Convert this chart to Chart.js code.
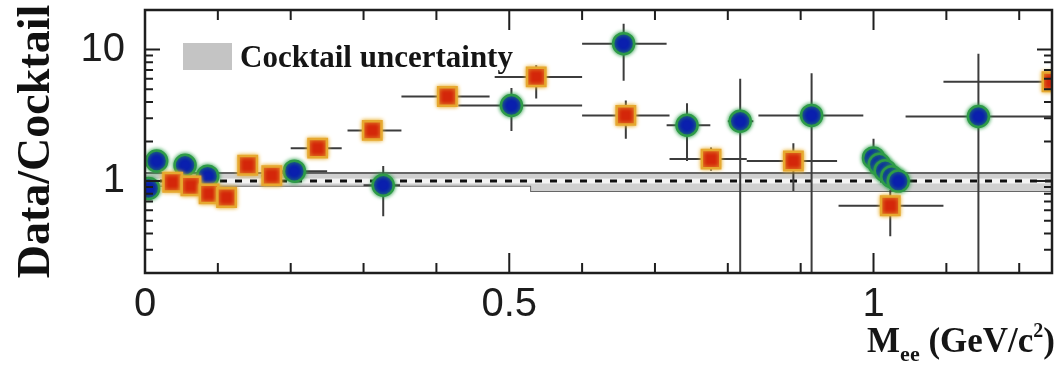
<!DOCTYPE html>
<html>
<head>
<meta charset="utf-8">
<script src="https://cdn.jsdelivr.net/npm/chart.js@4.4.0/dist/chart.umd.min.js"></script>
<style>
  html, body { margin: 0; padding: 0; background: #fff; }
</style>
</head>
<body>
<canvas id="ratio" width="1057" height="371"></canvas>
<script>
// blue circles: x, ratio, x error range, ratio error range
const circX   = [0.005, 0.016, 0.055, 0.086, 0.205, 0.327, 0.503, 0.657, 0.744, 0.817, 0.915, 1.000, 1.008, 1.016, 1.025, 1.034, 1.144];
const circY   = [0.88, 1.42, 1.32, 1.09, 1.19, 0.93, 3.76, 11.1, 2.66, 2.85, 3.16, 1.50, 1.34, 1.20, 1.08, 1.00, 3.10];
const circXLo = [0.000, 0.010, 0.045, 0.075, 0.170, 0.300, 0.430, 0.600, 0.716, 0.800, 0.842, 0.995, 1.003, 1.011, 1.020, 1.029, 1.044];
const circXHi = [0.010, 0.022, 0.065, 0.095, 0.250, 0.350, 0.600, 0.716, 0.776, 0.835, 0.986, 1.005, 1.013, 1.021, 1.030, 1.039, 1.260];
const circYLo = [0.80, 1.30, 1.22, 1.00, 1.10, 0.54, 2.40, 5.80, 1.42, 0.10, 0.10, 1.20, 1.10, 1.00, 0.95, 0.90, 0.10];
const circYHi = [0.96, 1.55, 1.42, 1.19, 1.29, 1.30, 5.10, 15.7, 3.90, 6.00, 6.60, 2.10, 1.70, 1.50, 1.30, 1.15, 9.30];

// red squares
const sqX   = [0.038, 0.063, 0.088, 0.112, 0.141, 0.174, 0.237, 0.312, 0.415, 0.537, 0.660, 0.777, 0.890, 1.023, 1.245];
const sqY   = [0.98, 0.92, 0.80, 0.75, 1.32, 1.10, 1.78, 2.43, 4.40, 6.20, 3.16, 1.47, 1.42, 0.65, 5.70];
const sqXLo = [0.030, 0.055, 0.080, 0.104, 0.130, 0.160, 0.200, 0.278, 0.352, 0.480, 0.600, 0.720, 0.826, 0.952, 1.096];
const sqXHi = [0.046, 0.071, 0.096, 0.120, 0.152, 0.188, 0.270, 0.352, 0.473, 0.600, 0.720, 0.826, 0.950, 1.096, 1.400];
const sqYLo = [0.92, 0.86, 0.74, 0.69, 1.22, 1.02, 1.62, 2.15, 3.90, 4.25, 2.10, 1.20, 0.84, 0.38, 4.50];
const sqYHi = [1.04, 0.98, 0.86, 0.81, 1.42, 1.18, 1.96, 2.75, 5.00, 7.60, 4.10, 1.80, 1.94, 0.85, 7.50];

// cocktail uncertainty band around unity
const bandX  = [0, 0.53, 0.53, 1.245];
const bandHi = [1.15, 1.15, 1.15, 1.15];
const bandLo = [0.92, 0.92, 0.84, 0.84];

const xTicks = [0, 0.5, 1];
const yTicks = [1, 10];
const xMinor = [0.1, 0.2, 0.3, 0.4, 0.5, 0.6, 0.7, 0.8, 0.9, 1, 1.1, 1.2];
const yMinor = [0.2, 0.3, 0.4, 0.5, 0.6, 0.7, 0.8, 0.9, 1, 2, 3, 4, 5, 6, 7, 8, 9, 10, 20];

const pts = (xs, ys) => xs.map((x, i) => ({ x: x, y: ys[i] }));

// error bars are drawn right before each marker set, then the marker glow is switched on
const errorBars = {
  id: 'errorBars',
  beforeDatasetDraw(chart, args) {
    const ds = chart.data.datasets[args.index];
    if (!ds.err) return;
    const { ctx, chartArea: a, scales: { x, y } } = chart;
    ctx.save();
    ctx.beginPath();
    ctx.rect(a.left, a.top, a.right - a.left, a.bottom - a.top);
    ctx.clip();
    ctx.strokeStyle = '#3c3c3c';
    ctx.lineWidth = 2;
    ctx.beginPath();
    ds.data.forEach((p, i) => {
      const px = x.getPixelForValue(p.x), py = y.getPixelForValue(p.y);
      ctx.moveTo(x.getPixelForValue(ds.err.xLo[i]), py);
      ctx.lineTo(x.getPixelForValue(ds.err.xHi[i]), py);
      ctx.moveTo(px, y.getPixelForValue(ds.err.yLo[i]));
      ctx.lineTo(px, y.getPixelForValue(ds.err.yHi[i]));
    });
    ctx.stroke();
    ctx.restore();
    ctx.save();
    ctx.shadowColor = ds.glow;
    ctx.shadowBlur = 4;
  },
  afterDatasetDraw(chart, args) {
    if (chart.data.datasets[args.index].err) chart.ctx.restore();
  }
};

// box frame with inward ticks, legend and the mass axis title
const frame = {
  id: 'frame',
  afterDraw(chart) {
    const { ctx, chartArea: a, scales: { x, y } } = chart;
    ctx.save();
    ctx.strokeStyle = '#1e1e1e';
    ctx.lineWidth = 2.5;
    ctx.strokeRect(a.left, a.top, a.right - a.left, a.bottom - a.top);
    ctx.lineWidth = 2;
    ctx.beginPath();
    xMinor.forEach(v => {
      const px = x.getPixelForValue(v);
      const len = xTicks.includes(v) ? 20 : 10;
      ctx.moveTo(px, a.bottom); ctx.lineTo(px, a.bottom - len);
      ctx.moveTo(px, a.top); ctx.lineTo(px, a.top + len);
    });
    yMinor.forEach(v => {
      const py = y.getPixelForValue(v);
      const len = yTicks.includes(v) ? 15 : 8;
      ctx.moveTo(a.left, py); ctx.lineTo(a.left + len, py);
      ctx.moveTo(a.right, py); ctx.lineTo(a.right - len, py);
    });
    ctx.stroke();

    // legend
    ctx.fillStyle = '#c4c4c4';
    ctx.fillRect(a.left + 38, a.top + 33, 49, 27);
    ctx.fillStyle = '#151515';
    ctx.font = 'bold 31px "Liberation Serif"';
    ctx.textBaseline = 'alphabetic';
    ctx.fillText('Cocktail uncertainty', a.left + 95, a.top + 57);

    // M_ee (GeV/c^2)
    const parts = [
      { t: 'M', size: 35, dy: 0 },
      { t: 'ee', size: 22, dy: 9 },
      { t: ' (GeV/c', size: 35, dy: 0 },
      { t: '2', size: 20, dy: -15 },
      { t: ')', size: 35, dy: 0 }
    ];
    let total = 0;
    parts.forEach(p => {
      ctx.font = 'bold ' + p.size + 'px "Liberation Serif"';
      p.w = ctx.measureText(p.t).width;
      total += p.w;
    });
    let cx = chart.width - 2 - total;
    parts.forEach(p => {
      ctx.font = 'bold ' + p.size + 'px "Liberation Serif"';
      ctx.fillText(p.t, cx, 352 + p.dy);
      cx += p.w;
    });
    ctx.restore();
  }
};

const ctx = document.getElementById('ratio').getContext('2d');
const ratioChart = new Chart(ctx, {
  type: 'scatter',
  data: {
    datasets: [
      {
        label: 'circles',
        data: pts(circX, circY),
        err: { xLo: circXLo, xHi: circXHi, yLo: circYLo, yHi: circYHi },
        glow: '#2ea04a',
        pointStyle: 'circle',
        pointRadius: 10.5,
        pointBackgroundColor: '#0a1fae',
        pointBorderColor: '#2e9a48',
        pointBorderWidth: 2.5,
        order: 1,
        clip: 0
      },
      {
        label: 'squares',
        data: pts(sqX, sqY),
        err: { xLo: sqXLo, xHi: sqXHi, yLo: sqYLo, yHi: sqYHi },
        glow: '#e8b030',
        pointStyle: 'rect',
        pointRadius: 13,
        pointBackgroundColor: '#d4260a',
        pointBorderColor: '#e6a830',
        pointBorderWidth: 2.5,
        order: 0,
        clip: 0
      },
      {
        type: 'line',
        label: 'unity',
        data: [{ x: 0, y: 1 }, { x: 1.245, y: 1 }],
        borderColor: '#111',
        borderWidth: 3,
        borderDash: [7, 8],
        pointRadius: 0,
        order: 2
      },
      {
        type: 'line',
        label: 'unity back',
        data: [{ x: 0, y: 1 }, { x: 1.245, y: 1 }],
        borderColor: '#f4f4f4',
        borderWidth: 5,
        pointRadius: 0,
        order: 3
      },
      {
        type: 'line',
        label: 'Cocktail uncertainty',
        data: pts(bandX, bandHi),
        borderColor: '#666',
        borderWidth: 2,
        backgroundColor: '#d0d0d0',
        fill: '+1',
        pointRadius: 0,
        order: 4
      },
      {
        type: 'line',
        label: 'band low',
        data: pts(bandX, bandLo),
        borderColor: '#666',
        borderWidth: 2,
        pointRadius: 0,
        order: 4
      }
    ]
  },
  options: {
    responsive: false,
    animation: false,
    devicePixelRatio: 1,
    layout: { autoPadding: false, padding: { top: 10, right: 5, left: 0, bottom: 0 } },
    plugins: { legend: { display: false }, tooltip: { enabled: false } },
    scales: {
      x: {
        type: 'linear',
        min: 0,
        max: 1.245,
        grid: { display: false, drawTicks: false },
        border: { display: false },
        afterBuildTicks: s => { s.ticks = xTicks.map(v => ({ value: v })); },
        afterFit: s => { s.height = 98; s.paddingLeft = 0; s.paddingRight = 0; },
        ticks: {
          autoSkip: false,
          maxRotation: 0,
          padding: 8,
          color: '#1c1c1c',
          font: { family: 'Liberation Sans', size: 40 },
          callback: v => String(v)
        }
      },
      y: {
        type: 'logarithmic',
        min: 0.2,
        max: 20,
        grid: { display: false, drawTicks: false },
        border: { display: false },
        afterBuildTicks: s => { s.ticks = yTicks.map(v => ({ value: v })); },
        afterFit: s => { s.width = 145; s.paddingTop = 0; s.paddingBottom = 0; },
        ticks: {
          padding: 20,
          color: '#1c1c1c',
          font: { family: 'Liberation Sans', size: 40 },
          callback: v => String(v)
        },
        title: {
          display: true,
          text: 'Data/Cocktail',
          color: '#111',
          font: { family: 'Liberation Serif', size: 46, weight: 'bold' },
          padding: { top: 10, bottom: 0 }
        }
      }
    }
  },
  plugins: [errorBars, frame]
});
</script>
</body>
</html>
